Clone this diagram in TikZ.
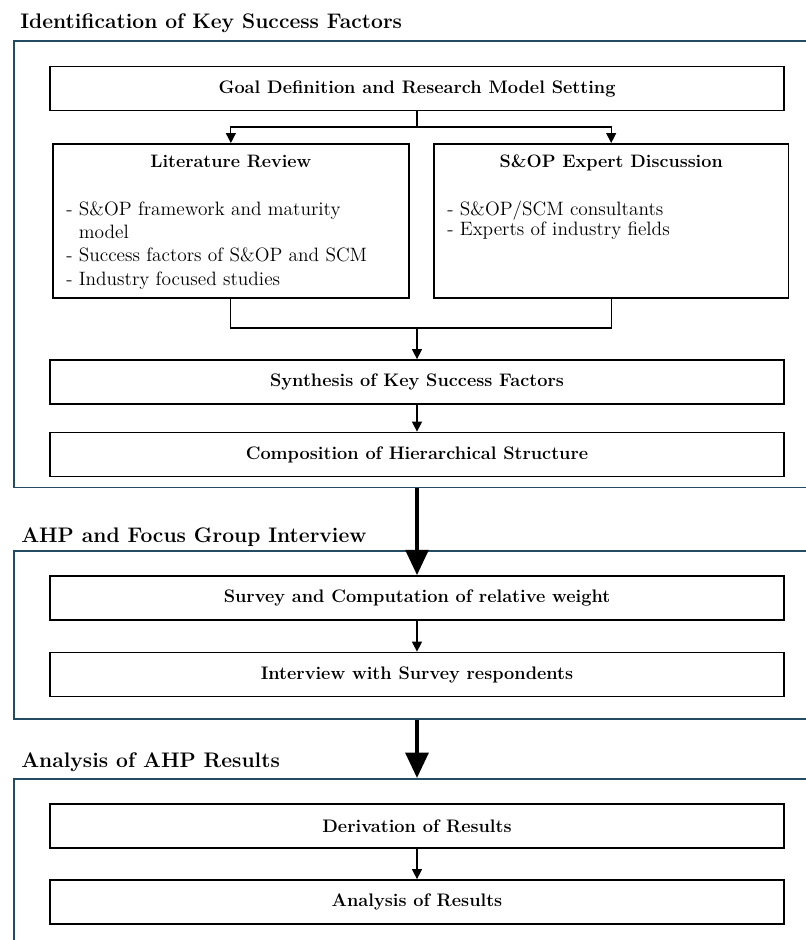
\documentclass[tikz,border=0pt]{standalone}
\usepackage{tikz}
\usetikzlibrary{positioning, arrows.meta}
\definecolor{framecol}{RGB}{35,75,100}

\begin{document}
\begin{tikzpicture}[x=0.75pt, y=-0.75pt,
    groupframe/.style={draw=framecol, line width=1.2pt, inner sep=0pt, anchor=north west},
    grouptitle/.style={anchor=base west, inner sep=0pt, font=\fontsize{15.8}{18}\selectfont\bfseries},
    stepbox/.style={draw=black, line width=1.3pt, minimum width=551pt, minimum height=33pt, inner sep=0pt, font=\fontsize{13.6}{16}\selectfont\bfseries},
    sidebox/.style={draw=black, line width=1.3pt, minimum height=115.5pt, inner sep=0pt, anchor=north west},
    headtext/.style={inner sep=0pt, font=\fontsize{13.5}{16}\selectfont\bfseries},
    itemtext/.style={inner sep=0pt, align=left, anchor=north west},
    flow/.style={-{Triangle[width=7.5pt,length=7.5pt]}, line width=0.9pt},
    bigflow/.style={-{Triangle[width=17pt,length=19pt]}, line width=3pt}]
    \useasboundingbox (0,0) rectangle (806,940);

    % Group frames and their titles
    \node[groupframe, minimum width=605pt, minimum height=335pt] (ident) at (13,40) {};
    \node[groupframe, minimum width=605pt, minimum height=126pt] (ahp) at (13,550) {};
    \node[groupframe, minimum width=605pt, minimum height=140pt] (res) at (13,778) {};
    \node[grouptitle] (identtitle) at (20,28) {Identification of Key Success Factors};
    \node[grouptitle] (ahptitle) at (21,542) {AHP and Focus Group Interview};
    \node[grouptitle] (restitle) at (21,767) {Analysis of AHP Results};

    % Steps of the first group
    \node[stepbox] (goal) at (417,88.5) {Goal Definition and Research Model Setting};
    \node[sidebox, minimum width=267pt] (lit) at (52,143) {};
    \node[sidebox, minimum width=266pt] (exp) at (433,143) {};
    \node[headtext, below=18pt of lit.north, anchor=base] (lithead) {Literature Review};
    \node[headtext, below=18pt of exp.north, anchor=base] (exphead) {S\&OP Expert Discussion};
    \node[itemtext, font=\fontsize{14.5}{17.5}\selectfont] (lititems) at (66,201)
        {- S\&OP framework and maturity\\\hphantom{- }model\\- Success factors of S\&OP and SCM\\- Industry focused studies};
    \node[itemtext, font=\fontsize{14.5}{13.2}\selectfont] (expitems) at (447,201)
        {- S\&OP/SCM consultants\\- Experts of industry fields};
    \node[stepbox] (synth) at (417,382) {Synthesis of Key Success Factors};
    \node[stepbox] (comp) at (417,454.5) {Composition of Hierarchical Structure};

    % Steps of the second and third group
    \node[stepbox] (survey) at (417,598) {Survey and Computation of relative weight};
    \node[stepbox] (inter) at (417,674.5) {Interview with Survey respondents};
    \node[stepbox] (deriv) at (417,826) {Derivation of Results};
    \node[stepbox] (anal) at (417,902) {Analysis of Results};

    % Connect the steps
    \coordinate (split) at (417,127);
    \coordinate (merge) at (417,328);
    \draw[line width=0.9pt] (goal.south) -- (split);
    \draw[flow] (split) -| (lit.north);
    \draw[flow] (split) -| (exp.north);
    \draw[line width=0.9pt] (lit.south) |- (merge);
    \draw[line width=0.9pt] (exp.south) |- (merge);
    \draw[flow] (merge) -- (synth.north);
    \draw[flow] (synth) -- (comp);
    \draw[flow] (survey) -- (inter);
    \draw[flow] (deriv) -- (anal);

    % Arrows between the groups
    \draw[bigflow] (comp.south |- ident.south) -- (survey.north);
    \draw[bigflow] (inter.south |- ahp.south) -- (res.north -| inter.south);
\end{tikzpicture}
\end{document}
